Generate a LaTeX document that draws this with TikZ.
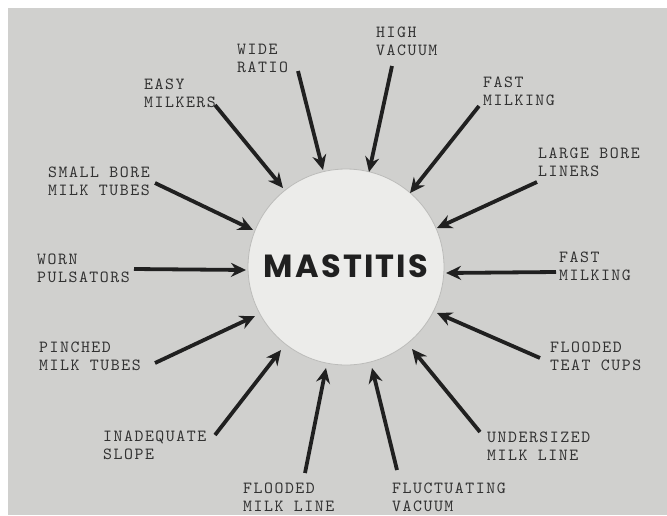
\documentclass[tikz,border=0pt]{standalone}
\usepackage{fontspec}
\newfontfamily\titlefont{Poppins}[LetterSpace=7]
\newfontfamily\typefont{lmmono10-regular.otf}[LetterSpace=9]
\usetikzlibrary{arrows.meta}
\definecolor{bgpaper}{RGB}{208,208,206}
\definecolor{disc}{RGB}{236,236,234}
\definecolor{discedge}{RGB}{188,188,186}
\definecolor{ink}{RGB}{32,32,32}
\definecolor{typeink}{RGB}{50,50,50}
\tikzset{
  lab/.style={anchor=north west, inner sep=0pt, align=left, text=typeink,
    font=\typefont\fontsize{17}{17.5}\selectfont},
  arr/.style={draw=ink, line width=3.8pt,
    -{Stealth[length=15pt,width=14pt,inset=5pt]}},
}
\begin{document}
\begin{tikzpicture}[x=1pt,y=-1pt]
\useasboundingbox (0,0) rectangle (667,515);
\fill[white] (0,0) rectangle (667,515);
\fill[bgpaper] (8,8) rectangle (667,515);

\node[circle, fill=disc, draw=discedge, line width=0.8pt, minimum size=196pt, inner sep=0pt] (circ) at (346,267) {};
\node[text=ink, inner sep=0pt, font=\titlefont\bfseries\fontsize{32}{38}\selectfont] (title) at (346,266) {MASTITIS};

% labels
\node[lab] (wide)  at (237,44)  {WIDE\\RATIO};
\node[lab] (easy)  at (144,79)  {EASY\\MILKERS};
\node[lab] (high)  at (376,27)  {HIGH\\VACUUM};
\node[lab] (fastA) at (483,77)  {FAST\\MILKING};
\node[lab] (large) at (538,148) {LARGE BORE\\LINERS};
\node[lab] (small) at (48,167)  {SMALL BORE\\MILK TUBES};
\node[lab] (worn)  at (37,254)  {WORN\\PULSATORS};
\node[lab] (fastB) at (559,252) {FAST\\MILKING};
\node[lab] (pinch) at (39,342)  {PINCHED\\MILK TUBES};
\node[lab] (teat)  at (550,342) {FLOODED\\TEAT CUPS};
\node[lab] (slope) at (103,431) {INADEQUATE\\SLOPE};
\node[lab] (fline) at (243,483) {FLOODED\\MILK LINE};
\node[lab] (fluct) at (392,483) {FLUCTUATING\\VACUUM};
\node[lab] (under) at (487,432) {UNDERSIZED\\MILK LINE};

% arrow tails
\coordinate (tWide)  at (298,71);
\coordinate (tEasy)  at (215,105);
\coordinate (tHigh)  at (392,66);
\coordinate (tFastA) at (479,106);
\coordinate (tLarge) at (537,182);
\coordinate (tSmall) at (155,183);
\coordinate (tWorn)  at (134,269);
\coordinate (tFastB) at (556,272);
\coordinate (tPinch) at (155,363);
\coordinate (tTeat)  at (540,358);
\coordinate (tSlope) at (215,435);
\coordinate (tFline) at (305,473);
\coordinate (tFluct) at (397,470);
\coordinate (tUnder) at (480,432);
% arrow tips on the disc
\coordinate (hWide)  at (323,170);
\coordinate (hEasy)  at (283,188);
\coordinate (hHigh)  at (369,172);
\coordinate (hFastA) at (410,193);
\coordinate (hLarge) at (437,228);
\coordinate (hSmall) at (253,230);
\coordinate (hWorn)  at (246,270);
\coordinate (hFastB) at (446,273);
\coordinate (hPinch) at (255,316);
\coordinate (hTeat)  at (437,313);
\coordinate (hSlope) at (281,350);
\coordinate (hFline) at (326,368);
\coordinate (hFluct) at (372,368);
\coordinate (hUnder) at (412,349);

\foreach \n in {Wide,Easy,High,FastA,Large,Small,Worn,FastB,Pinch,Teat,Slope,Fline,Fluct,Under}
  \draw[arr] (t\n) -- (h\n);
\end{tikzpicture}
\end{document}
